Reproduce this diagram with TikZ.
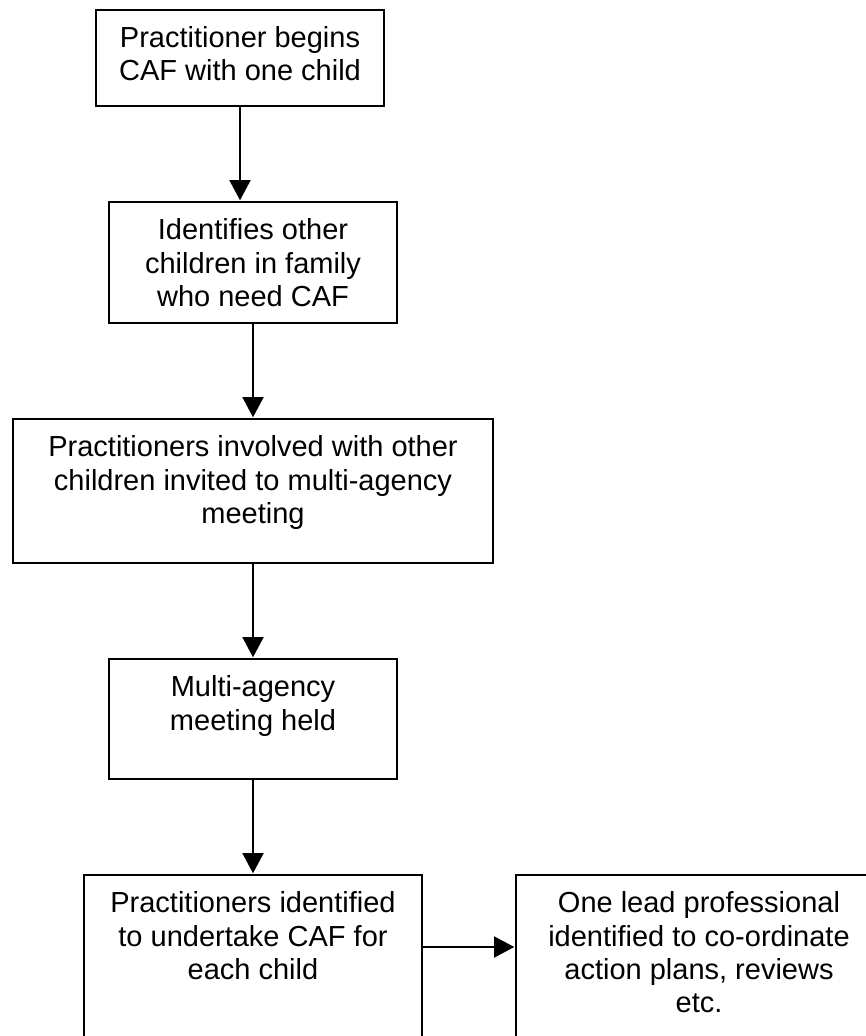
\documentclass[tikz,border=0pt]{standalone}
\usepackage{fontspec}
\setmainfont{Liberation Sans}
\usepackage{tikz}
\usetikzlibrary{arrows.meta,positioning}

% box text, set from the top of the box
\newcommand{\boxtext}[3]{\parbox[c][#1][t]{#2}{\centering\rule{0pt}{21.6pt}#3}}

\begin{document}
\begin{tikzpicture}[->,>={Triangle[length=11.5pt,width=12pt]},shorten >=1pt,
  line width=1pt,node distance=1.92cm,
  main box/.style={rectangle,draw,inner sep=0pt,outer sep=0pt,font=\fontsize{16.5}{18.8}\selectfont}]

  \useasboundingbox (0,0) rectangle (17.32,-20.72);
  \clip (0,0) rectangle (17.32,-20.72);

  \node[main box] (begin) at (4.8,-1.16)
    {\boxtext{1.92cm}{5.76cm}{Practitioner begins\\CAF with one child}};
  \node[main box] (identify) [below=of begin,xshift=0.26cm]
    {\boxtext{2.42cm}{5.76cm}{Identifies other\\children in family\\who need CAF}};
  \node[main box] (invite) [below=of identify]
    {\boxtext{2.88cm}{9.6cm}{Practitioners involved with other\\children invited to multi-agency\\meeting}};
  \node[main box] (meeting) [below=of invite]
    {\boxtext{2.4cm}{5.76cm}{Multi-agency\\meeting held}};
  \node[main box] (assign) [below=of meeting]
    {\boxtext{3.72cm}{6.76cm}{Practitioners identified\\to undertake CAF for\\each child}};
  \node[main box] (lead) [right=1.88cm of assign]
    {\boxtext{3.72cm}{7.32cm}{One lead professional\\identified to co-ordinate\\action plans, reviews\\etc.}};

  \coordinate (out) at ([yshift=-1.44cm]assign.north east);

  \path
    (begin) edge (begin.south |- identify.north)
    (identify) edge (invite)
    (invite) edge (meeting)
    (meeting) edge (assign)
    (out) edge (out -| lead.west);

\end{tikzpicture}
\end{document}
